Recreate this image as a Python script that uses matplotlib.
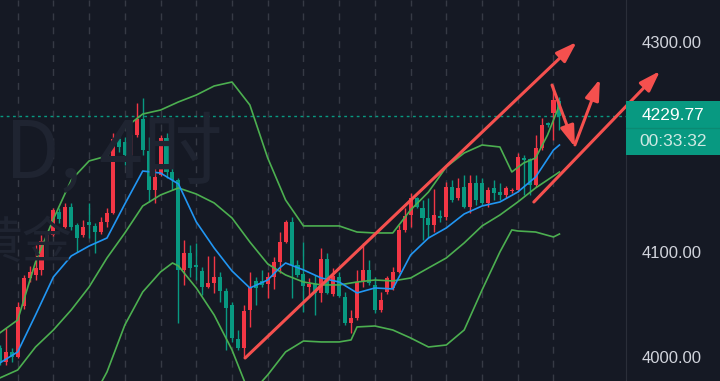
import matplotlib
matplotlib.use("Agg")
import matplotlib.pyplot as plt

# 4H candles, red = up, green = down
opens = [4008.6, 3995.2, 4004.8, 4000.0, 4048.6, 4075.2, 4078.1, 4082.9, 4109.5, 4116.2,
         4138.1, 4123.8, 4142.9, 4125.7, 4116.2, 4128.6, 4124.8, 4119.0, 4128.6, 4137.1,
         4207.6, 4204.8, 4192.4, 4211.4, 4226.7, 4196.2, 4159.0, 4173.3, 4208.6, 4176.2,
         4168.6, 4082.9, 4099.0, 4087.6, 4081.9, 4066.7, 4070.5, 4076.2, 4062.9, 4049.5,
         4017.1, 4008.6, 4044.8, 4072.4, 4072.4, 4069.5, 4076.2, 4090.5, 4109.5, 4128.6,
         4087.6, 4079.0, 4066.7, 4069.5, 4061.0, 4093.3, 4060.0, 4076.2, 4057.1, 4032.4,
         4037.1, 4071.4, 4082.9, 4068.6, 4044.8, 4061.9, 4065.7, 4081.0, 4121.0, 4135.2,
         4151.4, 4141.9, 4132.4, 4125.7, 4134.3, 4133.3, 4161.9, 4151.4, 4161.9, 4142.9,
         4165.7, 4165.7, 4146.7, 4161.0, 4157.1, 4154.3, 4158.1, 4159.0, 4189.5, 4188.6,
         4163.8, 4199.0, 4222.9, 4232.4, 4243.8]
highs = [4011.4, 4027.6, 4008.6, 4052.4, 4078.1, 4086.7, 4106.7, 4116.2, 4118.1, 4141.9,
         4141.9, 4146.7, 4146.7, 4127.6, 4130.5, 4146.7, 4127.6, 4133.3, 4141.9, 4213.3,
         4211.4, 4209.5, 4213.3, 4241.9, 4246.7, 4209.5, 4181.9, 4211.4, 4213.3, 4187.6,
         4170.5, 4111.4, 4106.7, 4108.6, 4085.7, 4096.2, 4096.2, 4081.0, 4065.7, 4052.4,
         4025.7, 4049.5, 4081.0, 4076.2, 4082.9, 4081.0, 4095.2, 4119.0, 4130.5, 4133.3,
         4092.4, 4109.5, 4075.2, 4078.1, 4103.8, 4099.0, 4084.8, 4081.0, 4061.9, 4044.8,
         4082.9, 4108.6, 4092.4, 4076.2, 4061.9, 4077.1, 4085.7, 4125.7, 4141.9, 4156.2,
         4152.4, 4149.5, 4151.4, 4160.0, 4140.0, 4166.7, 4168.6, 4170.5, 4173.3, 4173.3,
         4173.3, 4170.5, 4161.9, 4168.6, 4165.7, 4162.9, 4161.0, 4194.3, 4192.4, 4189.5,
         4211.4, 4227.6, 4223.8, 4259.0, 4247.6]
lows = [3992.4, 3992.4, 3995.2, 3999.0, 4045.7, 4071.4, 4073.3, 4078.1, 4106.7, 4115.2,
        4127.6, 4122.9, 4121.0, 4100.0, 4114.3, 4113.3, 4099.0, 4117.1, 4123.8, 4136.2,
        4195.2, 4182.9, 4190.5, 4209.5, 4192.4, 4147.6, 4146.7, 4172.4, 4170.5, 4159.0,
        4032.4, 4068.6, 4076.2, 4073.3, 4059.0, 4065.7, 4061.0, 4052.4, 4006.7, 4014.3,
        4006.7, 3999.0, 4028.6, 4049.5, 4066.7, 4056.2, 4064.8, 4080.0, 4108.6, 4056.2,
        4076.2, 4042.9, 4059.0, 4040.0, 4052.4, 4060.0, 4058.1, 4057.1, 4030.5, 4022.9,
        4035.2, 4066.7, 4068.6, 4041.9, 4042.9, 4060.0, 4063.8, 4080.0, 4119.0, 4123.8,
        4141.9, 4111.4, 4113.3, 4119.0, 4128.6, 4130.5, 4147.6, 4149.5, 4141.9, 4137.1,
        4144.8, 4144.8, 4142.9, 4149.5, 4149.5, 4151.4, 4156.2, 4157.1, 4154.3, 4154.3,
        4161.9, 4197.1, 4219.0, 4206.7, 4216.2]
closes = [3995.2, 4004.8, 4000.0, 4047.6, 4075.2, 4081.0, 4084.8, 4110.5, 4116.2, 4140.0,
          4131.4, 4142.9, 4123.8, 4113.3, 4123.8, 4125.7, 4119.0, 4128.6, 4137.1, 4207.6,
          4200.0, 4192.4, 4211.4, 4226.7, 4197.1, 4159.0, 4171.4, 4208.6, 4176.2, 4168.6,
          4082.9, 4099.0, 4084.8, 4085.7, 4066.7, 4070.5, 4076.2, 4062.9, 4046.7, 4018.1,
          4008.6, 4043.8, 4066.7, 4065.7, 4068.6, 4076.2, 4090.5, 4109.5, 4128.6, 4087.6,
          4078.1, 4067.6, 4069.5, 4061.0, 4093.3, 4061.0, 4077.1, 4058.1, 4032.4, 4037.1,
          4071.4, 4082.9, 4070.5, 4044.8, 4054.3, 4075.2, 4081.0, 4121.0, 4134.3, 4151.4,
          4142.9, 4132.4, 4125.7, 4135.2, 4132.4, 4161.9, 4149.5, 4161.0, 4142.9, 4165.7,
          4149.5, 4146.7, 4159.0, 4156.2, 4154.3, 4161.0, 4159.0, 4190.5, 4187.6, 4163.8,
          4199.0, 4221.0, 4221.0, 4244.8, 4229.77]

# indicator lines (candle index, price)
upper_idx = [0, 3, 6, 9, 12, 15, 18, 21, 24, 27, 30, 33, 36, 39, 42, 45, 48, 51, 54, 57,
             60, 63, 66, 69, 72, 75, 78, 81, 84, 86, 88, 90, 92, 94]
upper_val = [4022.9, 4035.2, 4090.5, 4131.4, 4168.6, 4186.7, 4191.4, 4218.1, 4231.4, 4235.2,
             4242.9, 4249.5, 4258.1, 4261.9, 4240.0, 4189.5, 4149.5, 4124.8, 4124.8, 4124.8,
             4119.0, 4118.1, 4118.1, 4140.0, 4157.1, 4181.0, 4194.3, 4201.9, 4200.0, 4176.2,
             4184.8, 4189.5, 4211.4, 4240.0]
mid_idx = [0, 3, 6, 9, 12, 15, 18, 21, 24, 27, 30, 33, 36, 39, 42, 45, 48, 51, 54, 57,
           60, 63, 66, 69, 72, 75, 78, 81, 84, 87, 90, 93, 94]
mid_val = [3980.0, 3987.6, 4009.5, 4025.7, 4044.8, 4066.7, 4094.3, 4118.1, 4143.8, 4154.3,
           4161.0, 4155.2, 4146.7, 4132.4, 4109.5, 4088.6, 4078.1, 4071.4, 4068.6, 4068.6,
           4071.4, 4073.3, 4072.4, 4075.2, 4084.8, 4094.3, 4108.6, 4124.8, 4135.2, 4147.6,
           4161.0, 4172.4, 4176.2]
blue_idx = [0, 3, 6, 9, 12, 15, 18, 21, 24, 27, 30, 33, 36, 39, 42, 45, 47, 48, 51, 54,
            57, 60, 63, 66, 69, 72, 75, 78, 81, 84, 87, 90, 93, 94]
blue_val = [3994.3, 4004.8, 4040.0, 4076.2, 4096.2, 4105.7, 4113.3, 4145.7, 4177.1, 4175.2,
            4164.8, 4128.6, 4103.8, 4081.9, 4065.7, 4073.3, 4084.8, 4089.5, 4082.9, 4075.2,
            4071.4, 4061.0, 4065.7, 4064.8, 4097.1, 4113.3, 4122.9, 4136.2, 4143.8, 4147.6,
            4157.1, 4171.4, 4197.1, 4201.9]
lower_idx = [15, 18, 21, 24, 27, 29, 30, 33, 36, 39, 42, 45, 48, 51, 54, 57, 59, 60, 63, 66,
             69, 72, 75, 78, 81, 84, 86, 87, 90, 93, 94]
lower_val = [3954.3, 3985.7, 4030.5, 4061.9, 4081.0, 4089.5, 4086.7, 4065.7, 4040.0, 4006.7,
             3963.8, 3982.9, 4004.8, 4015.2, 4014.3, 4014.3, 4016.2, 4028.6, 4029.5, 4025.7,
             4018.1, 4009.5, 4011.4, 4025.7, 4063.8, 4100.0, 4121.0, 4120.0, 4119.0, 4114.3,
             4117.1]

last_price = 4229.77
countdown = "00:33:32"
price_ticks = [4000, 4100, 4300]

bg = "#151924"
up_col = "#f23645"
down_col = "#089981"
band_col = "#4caf50"
blue_col = "#2196f3"
draw_col = "#f5504e"

W, H = 720, 381
fig = plt.figure(figsize=(W / 100, H / 100), dpi=100, facecolor=bg)
ax = fig.add_axes([0, 0, 626 / W, 1])
ax.set_facecolor(bg)

# vertical dashed grid, one per day
for g in range(3, len(closes), 6):
    ax.axvline(g, color="#363a45", lw=1, ls=(0, (5, 5)), zorder=0)

# candles
n = len(closes)
idx = list(range(n))
cols = [up_col if closes[i] >= opens[i] else down_col for i in idx]
ax.vlines(idx, lows, highs, colors=cols, lw=1, zorder=2)
bottoms = [min(opens[i], closes[i]) for i in idx]
heights = [max(abs(closes[i] - opens[i]), 0.8) for i in idx]
ax.bar(idx, heights, bottom=bottoms, width=0.68, color=cols, zorder=3, linewidth=0)

# indicator lines
ax.plot(upper_idx, upper_val, color=band_col, lw=1.2, zorder=4)
ax.plot(mid_idx, mid_val, color=band_col, lw=1.2, zorder=4)
ax.plot(lower_idx, lower_val, color=band_col, lw=1.2, zorder=4)
ax.plot(blue_idx, blue_val, color=blue_col, lw=1.2, zorder=4)

# last price line
ax.axhline(last_price, color=down_col, lw=1, ls=(0, (2, 2.5)), zorder=1)

ax.set_xlim(0.03, 105.18)
ax.set_ylim(3977.1, 4340)

# price scale on the right
ax.yaxis.tick_right()
ax.set_yticks(price_ticks)
ax.set_yticklabels([f"{t:.2f}" for t in price_ticks])
ax.tick_params(axis="y", length=0, pad=11, labelsize=12, labelcolor="#d1d4dc")
for lab in ax.get_yticklabels():
    lab.set_fontfamily("Liberation Sans")
ax.set_xticks([])
for s in ["top", "bottom", "left"]:
    ax.spines[s].set_visible(False)
ax.spines["right"].set_color("#2a2e39")

# hand drawn trend lines / arrows
def arrow(x0, y0, x1, y1):
    ax.annotate("", xy=(x1, y1), xytext=(x0, y0), annotation_clip=False,
                arrowprops=dict(arrowstyle="-|>,head_length=0.9,head_width=0.3",
                                color=draw_col, lw=2.2, mutation_scale=14,
                                shrinkA=0, shrinkB=0, clip_on=False), zorder=6)

arrow(41.2, 3999.0, 96.9, 4300.0)
arrow(89.7, 4147.6, 110.9, 4272.4)
arrow(92.75, 4259.0, 96.6, 4200.0)
arrow(96.6, 4202.0, 100.8, 4264.8)

# watermark
fig.text(5 / W, 1 - 178 / H, "D, 4时", fontsize=57, color="#1f2431",
         family=["Noto Sans CJK SC", "DejaVu Sans"], zorder=0, va="baseline")
fig.text(-28 / W, 1 - 258 / H, "黄金", fontsize=36, color="#1f2431",
         family=["Noto Sans CJK SC", "DejaVu Sans"], zorder=0, va="baseline")

# last price tag
tag = fig.add_axes([626 / W, 1 - 155 / H, 94 / W, 54 / H])
tag.set_facecolor(down_col)
tag.set_xticks([])
tag.set_yticks([])
for s in tag.spines.values():
    s.set_visible(False)
tag.axhline(0.5, color="#0b8a73", lw=1)
tag.text(0.5, 0.74, f"{last_price:.2f}", ha="center", va="center", color="white",
         fontsize=12.5, family="Liberation Sans", transform=tag.transAxes)
tag.text(0.5, 0.25, countdown, ha="center", va="center", color="#cfe9e3",
         fontsize=12.5, family="Liberation Sans", transform=tag.transAxes)

fig.savefig("out.png", dpi=100, facecolor=bg)
